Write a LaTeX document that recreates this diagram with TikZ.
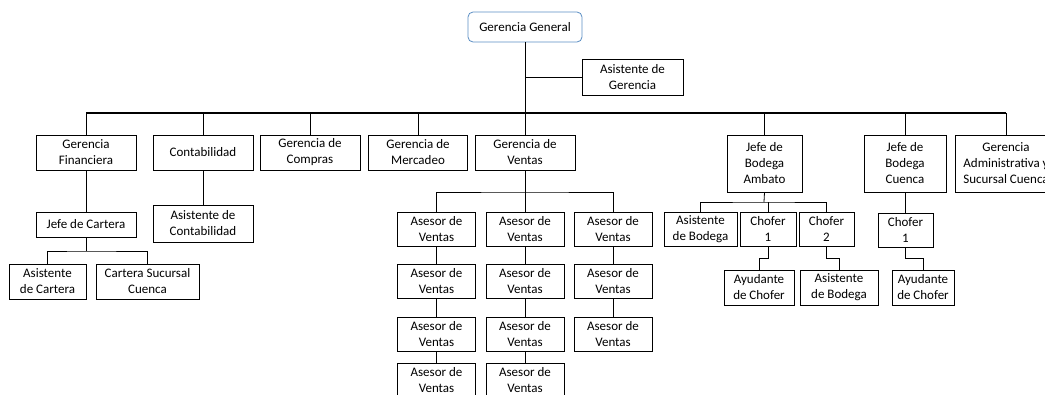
\documentclass[tikz,border=0pt]{standalone}
\usepackage{fontspec}
\setmainfont{Carlito}
\definecolor{ggblue}{RGB}{91,142,196}
\tikzset{
  box/.style={draw, align=center, inner sep=1pt, line width=0.8pt,
    font=\fontsize{13}{16}\selectfont},
  sz/.style 2 args={minimum width=#1pt, minimum height=#2pt},
  link/.style={line width=0.8pt},
  asesor/.style={box, sz={78}{34}}
}
\begin{document}
\begin{tikzpicture}[x=1pt, y=-1pt]
        \useasboundingbox (0,0) rectangle (1045,394);
        \clip (0,0) rectangle (1045,394);
        \fill[white] (0,0) rectangle (1045,394);

        % Top
        \node[box, sz={114}{30}, draw=ggblue, rounded corners=5pt] (gg) at (525,27) {Gerencia General};
        \node[box, sz={101}{36}] (asg) at (632.5,77) {Asistente de\\Gerencia};

        % Second level
        \node[box, sz={100}{35}] (fin) at (86,152.5) {Gerencia\\Financiera};
        \node[box, sz={100}{35}] (cont) at (203,152.5) {Contabilidad};
        \node[box, sz={100}{35}] (comp) at (310,152.5) {Gerencia de\\Compras};
        \node[box, sz={99}{35}] (merc) at (418,152.5) {Gerencia de\\Mercadeo};
        \node[box, sz={100}{35}] (ven) at (525,152.5) {Gerencia de\\Ventas};
        \node[box, sz={75}{57}] (amb) at (764.5,163.5) {Jefe de\\Bodega\\Ambato};
        \node[box, sz={82}{57}] (cue) at (905,163.5) {Jefe de\\Bodega\\Cuenca};
        \node[box, sz={102}{57}] (adm) at (1006,163.5) {Gerencia\\Administrativa y\\Sucursal Cuenca};

        % Main bus
        \coordinate (bus) at (525,113);
        \draw[link] (gg.south) -- (bus);
        \draw[link] (asg.west) -- (asg.west -| gg.south);
        \draw[line width=1.3pt] (fin.north |- bus) -- (adm.north |- bus);
        \foreach \n in {fin,cont,comp,merc,ven,amb,cue,adm} {
            \draw[link] (\n.north) -- (\n.north |- bus);
        }

        % Finanzas y contabilidad
        \node[box, sz={100}{25}] (jcar) at (86,224.5) {Jefe de Cartera};
        \node[box, sz={77}{35}] (acar) at (47.5,281.5) {Asistente\\de Cartera};
        \node[box, sz={103}{35}] (csc) at (147.5,281.5) {Cartera Sucursal\\Cuenca};
        \node[box, sz={100}{37}] (acont) at (203,223.5) {Asistente de\\Contabilidad};
        \coordinate (carbus) at (86,251);
        \draw[link] (fin.south) -- (jcar.north);
        \draw[link] (jcar.south) -- (carbus);
        \draw[link] (acar.north) |- (carbus) -| (csc.north);
        \draw[link] (cont.south) -- (acont.north);

        % Asesores de ventas
        \foreach \c/\x/\last in {1/436.5/4, 2/525/4, 3/613/3} {
            \foreach \r/\y in {1/229, 2/281, 3/334, 4/380} {
                \ifnum\r>\last\else
                    \node[asesor] (as\c\r) at (\x,\y) {Asesor de\\Ventas};
                \fi
            }
        }
        \foreach \c/\last in {1/4, 2/4, 3/3} {
            \foreach \r in {2,...,\last} {
                \pgfmathtruncatemacro\p{\r-1}
                \draw[link] (as\c\p.south) -- (as\c\r.north);
            }
        }
        \coordinate (venbus) at (525,192);
        \draw[link] (ven.south) -- (venbus);
        \draw[link] (as11.north) |- (venbus) -| (as31.north);
        \draw[link] (as21.north) -- (as21.north |- venbus);

        % Bodega Ambato
        \node[box, sz={73}{34}] (abod) at (700.5,229) {Asistente\\de Bodega};
        \node[box, sz={56}{34}] (ch1) at (768,229) {Chofer\\1};
        \node[box, sz={55}{34}] (ch2) at (826.5,229) {Chofer\\2};
        \node[box, sz={70}{35}] (ayu1) at (759,287.5) {Ayudante\\de Chofer};
        \node[box, sz={78}{35}] (abod2) at (839,287.5) {Asistente\\de Bodega};
        \coordinate (ambbus) at (764,202);
        \draw[link] (amb.south) -- (ambbus);
        \draw[link] (abod.north) |- (ambbus) -| (ch2.north);
        \draw[link] (ch1.north) -- (ch1.north |- ambbus);
        \draw[link] (ch1.south) -- ++(0,12) -| (ayu1.north);
        \draw[link] (ch2.south) -- ++(0,12) -| (abod2.north);

        % Bodega Cuenca
        \node[box, sz={55}{34}] (ch1c) at (905.5,230) {Chofer\\1};
        \node[box, sz={62}{35}] (ayu2) at (923,287.5) {Ayudante\\de Chofer};
        \draw[link] (cue.south) -- (cue.south |- ch1c.north);
        \draw[link] (ch1c.south) -- ++(0,11) -| (ayu2.north);
\end{tikzpicture}
\end{document}
